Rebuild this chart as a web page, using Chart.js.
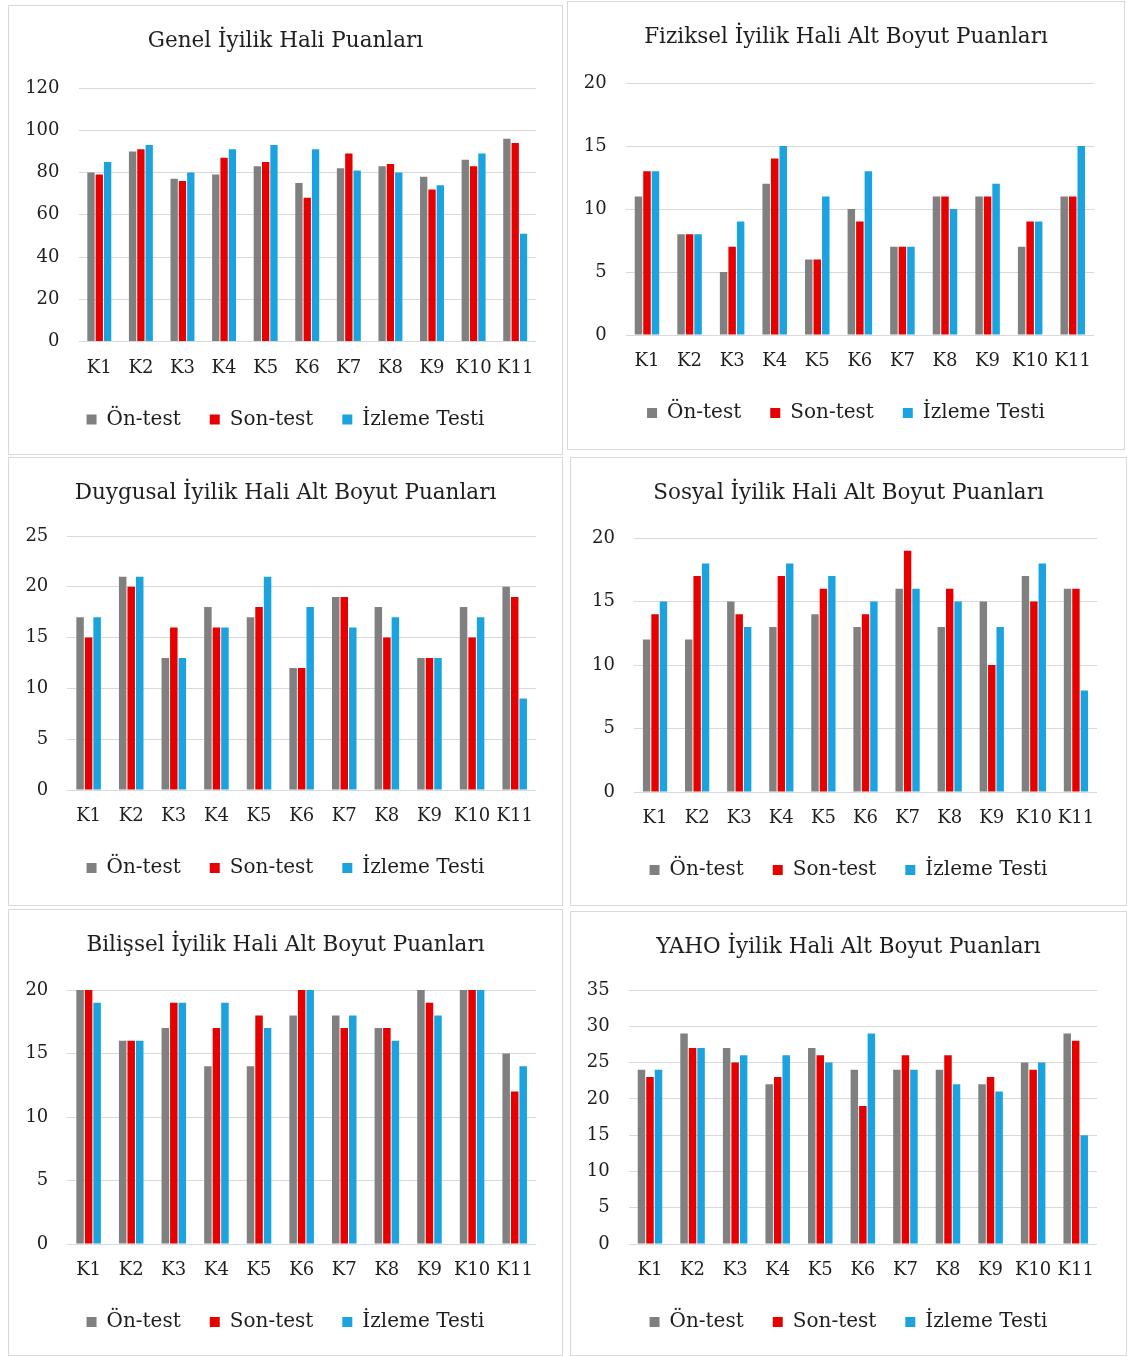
<!DOCTYPE html>
<html>
<head>
<meta charset="utf-8">
<script src="https://cdn.jsdelivr.net/npm/chart.js@4"></script>
<style>
  html, body { margin: 0; padding: 0; background: #ffffff; }
  body { width: 1127px; height: 1356px; position: relative; overflow: hidden; }
  .panel { position: absolute; border: 1px solid #d9d9d9; background: #fff; box-sizing: border-box; }
  .panel canvas { display: block; }
</style>
</head>
<body>
<div id="p0" class="panel"><canvas id="c0"></canvas></div>
<div id="p1" class="panel"><canvas id="c1"></canvas></div>
<div id="p2" class="panel"><canvas id="c2"></canvas></div>
<div id="p3" class="panel"><canvas id="c3"></canvas></div>
<div id="p4" class="panel"><canvas id="c4"></canvas></div>
<div id="p5" class="panel"><canvas id="c5"></canvas></div>
<script>
// ---------- DATA ----------
const categories = ['K1', 'K2', 'K3', 'K4', 'K5', 'K6', 'K7', 'K8', 'K9', 'K10', 'K11'];
const seriesNames = ['Ön-test', 'Son-test', 'İzleme Testi'];

const genelOn      = [80, 90, 77, 79, 83, 75, 82, 83, 78, 86, 96];
const genelSon     = [79, 91, 76, 87, 85, 68, 89, 84, 72, 83, 94];
const genelIzleme  = [85, 93, 80, 91, 93, 91, 81, 80, 74, 89, 51];

const fizikselOn     = [11, 8, 5, 12, 6, 10, 7, 11, 11, 7, 11];
const fizikselSon    = [13, 8, 7, 14, 6, 9, 7, 11, 11, 9, 11];
const fizikselIzleme = [13, 8, 9, 15, 11, 13, 7, 10, 12, 9, 15];

const duygusalOn     = [17, 21, 13, 18, 17, 12, 19, 18, 13, 18, 20];
const duygusalSon    = [15, 20, 16, 16, 18, 12, 19, 15, 13, 15, 19];
const duygusalIzleme = [17, 21, 13, 16, 21, 18, 16, 17, 13, 17, 9];

const sosyalOn     = [12, 12, 15, 13, 14, 13, 16, 13, 15, 17, 16];
const sosyalSon    = [14, 17, 14, 17, 16, 14, 19, 16, 10, 15, 16];
const sosyalIzleme = [15, 18, 13, 18, 17, 15, 16, 15, 13, 18, 8];

const bilisselOn     = [20, 16, 17, 14, 14, 18, 18, 17, 20, 20, 15];
const bilisselSon    = [20, 16, 19, 17, 18, 20, 17, 17, 19, 20, 12];
const bilisselIzleme = [19, 16, 19, 19, 17, 20, 18, 16, 18, 20, 14];

const yahoOn     = [24, 29, 27, 22, 27, 24, 24, 24, 22, 25, 29];
const yahoSon    = [23, 27, 25, 23, 26, 19, 26, 26, 23, 24, 28];
const yahoIzleme = [24, 27, 26, 26, 25, 29, 24, 22, 21, 25, 15];

const chartTitles = [
  'Genel İyilik Hali Puanları',
  'Fiziksel İyilik Hali Alt Boyut Puanları',
  'Duygusal İyilik Hali Alt Boyut Puanları',
  'Sosyal İyilik Hali Alt Boyut Puanları',
  'Bilişsel İyilik Hali Alt Boyut Puanları',
  'YAHO İyilik Hali Alt Boyut Puanları'
];
const yMaxValues  = [120, 20, 25, 20, 20, 35];
const yStepValues = [20, 5, 5, 5, 5, 5];

const seriesByChart = [
  [genelOn, genelSon, genelIzleme],
  [fizikselOn, fizikselSon, fizikselIzleme],
  [duygusalOn, duygusalSon, duygusalIzleme],
  [sosyalOn, sosyalSon, sosyalIzleme],
  [bilisselOn, bilisselSon, bilisselIzleme],
  [yahoOn, yahoSon, yahoIzleme]
];

// ---------- STYLE / LAYOUT ----------
const seriesColors = ['#808080', '#e60000', '#1ba3e0'];
const FONT = "'DejaVu Serif', 'Liberation Serif', serif";
const TEXT = '#1e1e1e';

// panel boxes (page coords, outer incl. border) and plot-area targets
const panels = [
  {l: 8,   t: 5,   w: 555, h: 450, cl: 78.5,  cr: 536,  ct: 88,  cb: 341.5},
  {l: 567, t: 1,   w: 558, h: 449, cl: 625.7, cr: 1094, ct: 83,  cb: 335},
  {l: 8,   t: 457, w: 555, h: 449, cl: 67.3,  cr: 536,  ct: 536, cb: 790},
  {l: 570, t: 457, w: 557, h: 449, cl: 634,   cr: 1097, ct: 538, cb: 792},
  {l: 8,   t: 909, w: 555, h: 447, cl: 67.3,  cr: 536,  ct: 990, cb: 1244},
  {l: 570, t: 911, w: 557, h: 445, cl: 628.7, cr: 1097, ct: 990, cb: 1244}
];

const TITLE_SIZE = 21.5;
const TITLE_PAD_TOP = 23;
const TITLE_LINE = TITLE_SIZE * 1.2;
const XAXIS_H = 39;
const LEGEND_SIZE = 20;
const LEGEND_PAD = 29;
const LEGEND_H = LEGEND_SIZE + LEGEND_PAD + 10;

panels.forEach((p, i) => {
  const div = document.getElementById('p' + i);
  div.style.left = p.l + 'px';
  div.style.top = p.t + 'px';
  div.style.width = p.w + 'px';
  div.style.height = p.h + 'px';

  const canvasLeft = p.l + 1, canvasTop = p.t + 1;
  const canvasW = p.w - 2, canvasH = p.h - 2;
  const yAxisW = p.cl - canvasLeft;
  const rightGap = (canvasLeft + canvasW) - p.cr;
  const chartTop = p.ct - canvasTop;
  const chartBottom = p.cb - canvasTop;
  const titlePadBottom = chartTop - TITLE_PAD_TOP - TITLE_LINE;
  const padBottom = canvasH - chartBottom - XAXIS_H - LEGEND_H;

  const data = seriesByChart[i];
  new Chart(document.getElementById('c' + i), {
    type: 'bar',
    data: {
      labels: categories,
      datasets: seriesNames.map((name, k) => ({
        label: name,
        data: data[k],
        backgroundColor: seriesColors[k],
        borderWidth: 0,
        categoryPercentage: 0.6,
        barPercentage: 0.88
      }))
    },
    options: {
      responsive: true,
      maintainAspectRatio: false,
      animation: false,
      events: [],
      layout: { padding: { left: 0, right: 0, top: 0, bottom: padBottom } },
      plugins: {
        title: {
          display: true,
          text: chartTitles[i],
          color: TEXT,
          font: { family: FONT, size: TITLE_SIZE, weight: 'normal', lineHeight: 1.2 },
          padding: { top: TITLE_PAD_TOP, bottom: titlePadBottom }
        },
        legend: {
          display: true,
          position: 'bottom',
          labels: {
            color: TEXT,
            font: { family: FONT, size: LEGEND_SIZE },
            boxWidth: 10,
            boxHeight: 10,
            padding: LEGEND_PAD
          }
        },
        tooltip: { enabled: false }
      },
      scales: {
        x: {
          grid: { display: false, drawTicks: false },
          border: { display: false },
          ticks: { color: TEXT, font: { family: FONT, size: 18 }, padding: 16, maxRotation: 0, autoSkip: false },
          afterFit: (s) => { s.height = XAXIS_H; }
        },
        y: {
          min: 0,
          max: yMaxValues[i],
          grid: { color: '#d9d9d9', drawTicks: false, lineWidth: 1 },
          border: { display: false },
          ticks: { stepSize: yStepValues[i], color: TEXT, font: { family: FONT, size: 18 }, padding: 19 },
          afterFit: (s) => { s.width = yAxisW; }
        },
        yRightGap: {
          type: 'linear',
          position: 'right',
          display: true,
          grid: { display: false, drawTicks: false },
          border: { display: false },
          ticks: { display: false },
          afterFit: (s) => { s.width = rightGap; }
        }
      }
    }
  });
});
</script>
</body>
</html>
